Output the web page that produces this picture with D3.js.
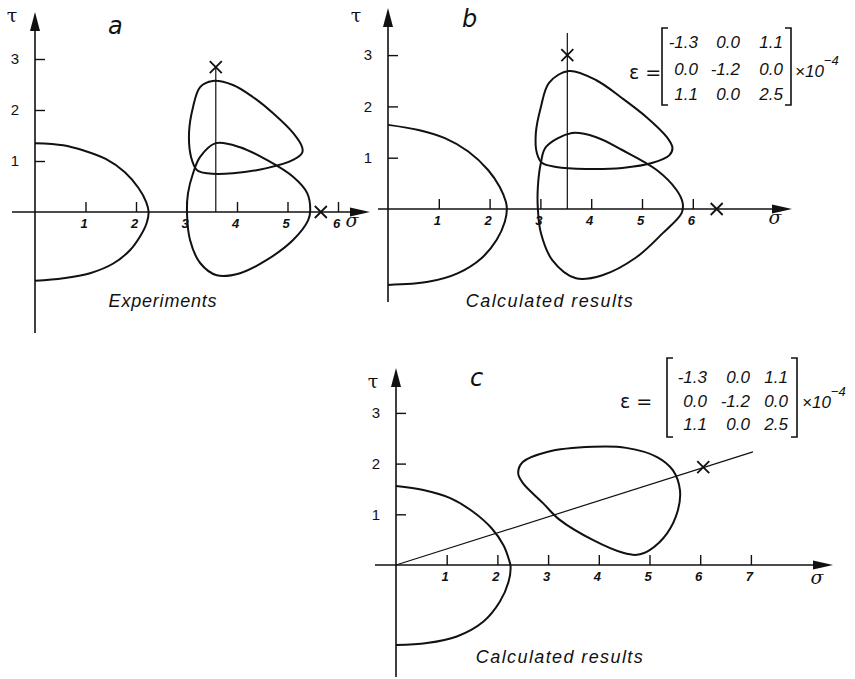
<!DOCTYPE html>
<html>
<head>
<meta charset="utf-8">
<script src="https://cdn.jsdelivr.net/npm/d3@7"></script>
<style>
  body { margin: 0; background: #fff; }
  text { fill: #111; }
</style>
</head>
<body>
<svg id="chart" width="855" height="679"></svg>
<script>
// ---- tick values ----
const sigmaTicksAB = [1, 2, 3, 4, 5, 6];
const sigmaTicksC = [1, 2, 3, 4, 5, 6, 7];
const tauTicks = [1, 2, 3];

// ---- panel a: experiments (σ, τ) ----
const aInitial = [[0,1.35],[0.56,1.31],[0.95,1.21],[1.40,1.04],[1.78,0.78],[2.05,0.47],[2.20,0.20],[2.25,0],[2.21,-0.22],[2.08,-0.48],[1.88,-0.75],[1.55,-1.01],[1.09,-1.20],[0.56,-1.30],[0,-1.35]];
const aLower = [[3.58,1.35],[3.27,1.08],[3.13,0.76],[3.03,0.37],[3.01,-0.02],[3.07,-0.55],[3.27,-1.00],[3.60,-1.24],[4.06,-1.20],[4.59,-0.94],[5.11,-0.55],[5.41,-0.16],[5.45,0.04],[5.39,0.37],[5.11,0.69],[4.59,1.02],[4.06,1.27]];
const aUpper = [[3.52,2.57],[3.27,2.45],[3.13,2.06],[3.05,1.55],[3.09,1.08],[3.21,0.82],[3.41,0.76],[3.92,0.76],[4.59,0.86],[5.11,1.02],[5.29,1.16],[5.29,1.27],[5.11,1.55],[4.71,1.94],[4.32,2.25],[3.92,2.49]];
const aLoadPath = [[3.58,0],[3.58,2.84]];
const aMarks = [[3.58,2.84],[5.66,0]];

// ---- panel b: calculated ----
const bInitial = [[0,1.64],[0.60,1.54],[1.12,1.38],[1.58,1.12],[1.97,0.76],[2.20,0.43],[2.32,0.14],[2.34,0],[2.30,-0.25],[2.14,-0.60],[1.84,-0.96],[1.38,-1.25],[0.79,-1.42],[0,-1.48]];
const bLower = [[3.62,1.48],[3.11,1.21],[3.01,0.90],[2.95,0.43],[2.95,0],[3.01,-0.47],[3.23,-0.99],[3.70,-1.35],[4.22,-1.29],[4.89,-0.94],[5.41,-0.47],[5.78,-0.08],[5.80,0.12],[5.68,0.37],[5.29,0.76],[4.61,1.15],[4.10,1.40]];
const bUpper = [[3.56,2.69],[3.17,2.46],[3.01,1.99],[2.91,1.48],[2.93,1.09],[3.03,0.90],[3.31,0.82],[3.90,0.78],[4.61,0.80],[5.21,0.90],[5.54,1.05],[5.60,1.19],[5.49,1.40],[5.09,1.79],[4.61,2.16],[4.10,2.51]];
const bLoadPath = [[3.53,0],[3.53,3.43]];
const bMarks = [[3.53,3.0],[6.47,0]];

// ---- panel c: calculated, proportional loading ----
const cInitial = [[0,1.56],[0.54,1.48],[1.07,1.32],[1.52,1.05],[1.89,0.72],[2.12,0.39],[2.23,0.10],[2.26,-0.03],[2.22,-0.33],[2.05,-0.72],[1.72,-1.12],[1.20,-1.41],[0.61,-1.54],[0,-1.58]];
const cLoop = [[3.89,2.33],[2.98,2.23],[2.50,2.03],[2.41,1.81],[2.50,1.62],[2.90,1.22],[3.23,0.89],[3.89,0.49],[4.48,0.24],[4.75,0.20],[5.01,0.30],[5.35,0.63],[5.56,1.08],[5.60,1.48],[5.46,1.87],[5.15,2.13],[4.54,2.31]];
const cLoadPath = [[0,0],[7.04,2.23]];
const cMarks = [[6.06,1.93]];

// ---- strain tensor (×10^-4) ----
const strainRows = [["-1.3","0.0","1.1"],["0.0","-1.2","0.0"],["1.1","0.0","2.5"]];

const svg = d3.select("#chart");
const INK = "#111";

const panels = [
  { tag: "a", caption: "Experiments", ticks: sigmaTicksAB, maxS: 6,
    ox: 35, oy: 212, ux: 50.5, uy: 51, yTop: 12, yBot: 333, xLeft: 12, xRight: 370,
    open: [aInitial], loops: [aUpper, aLower], path: aLoadPath, marks: aMarks,
    tagPos: [108, 34], tauPos: [12, 22], sigPos: [352, 227], capPos: [163, 307], capSpacing: 0.8, matrix: null },
  { tag: "b", caption: "Calculated results", ticks: sigmaTicksAB, maxS: 6,
    ox: 388, oy: 209, ux: 50.8, uy: 51.3, yTop: 8, yBot: 302, xLeft: 378, xRight: 792,
    open: [bInitial], loops: [bUpper, bLower], path: bLoadPath, marks: bMarks,
    tagPos: [462, 27], tauPos: [356, 22], sigPos: [775, 224], capPos: [550, 307], capSpacing: 1.4,
    matrix: { left: 662, right: 791, top: 28, bottom: 105, rows: [48, 75, 100], cols: [698, 740, 783], eqX: 629, eqY: 79, expX: 795, expY: 77 } },
  { tag: "c", caption: "Calculated results", ticks: sigmaTicksC, maxS: 7,
    ox: 396, oy: 565, ux: 50.7, uy: 50.7, yTop: 368, yBot: 677, xLeft: 375, xRight: 833,
    open: [cInitial], loops: [cLoop], path: cLoadPath, marks: cMarks,
    tagPos: [470, 386], tauPos: [373, 388], sigPos: [817, 584], capPos: [560, 663], capSpacing: 1.4,
    matrix: { left: 667, right: 797, top: 358, bottom: 437, rows: [383, 407, 430], cols: [707, 750, 788], eqX: 620, eqY: 408, expX: 802, expY: 408 } }
];

panels.forEach(p => {
  const g = svg.append("g");
  const x = d3.scaleLinear().domain([0, p.maxS]).range([p.ox, p.ox + p.maxS * p.ux]);
  const y = d3.scaleLinear().domain([0, 3]).range([p.oy, p.oy - 3 * p.uy]);

  // axes lines with arrowheads
  g.append("line").attr("x1", p.ox).attr("x2", p.ox).attr("y1", p.yBot).attr("y2", p.yTop + 12)
    .attr("stroke", INK).attr("stroke-width", 1.6);
  g.append("path").attr("d", `M${p.ox},${p.yTop} L${p.ox - 5},${p.yTop + 19} L${p.ox + 5},${p.yTop + 19} Z`).attr("fill", INK);
  g.append("line").attr("x1", p.xLeft).attr("x2", p.xRight - 12).attr("y1", p.oy).attr("y2", p.oy)
    .attr("stroke", INK).attr("stroke-width", 1.6);
  g.append("path").attr("d", `M${p.xRight},${p.oy} L${p.xRight - 20},${p.oy - 4.5} L${p.xRight - 20},${p.oy + 4.5} Z`).attr("fill", INK);

  // σ axis ticks (pointing up), labels below
  const xAxis = d3.axisBottom(x).tickValues(p.ticks).tickSizeInner(-10).tickSizeOuter(0).tickPadding(7).tickFormat(d3.format("d"));
  const gx = g.append("g").attr("transform", `translate(0,${p.oy})`).call(xAxis);
  gx.select(".domain").remove();
  gx.selectAll(".tick line").attr("stroke", INK).attr("stroke-width", 1.4);
  gx.selectAll(".tick text").attr("font-family", "Liberation Sans, Arial, sans-serif")
    .attr("font-size", 13).attr("font-style", "italic").attr("font-weight", "bold").attr("dx", -2);

  // τ axis ticks (pointing right), labels left
  const yAxis = d3.axisLeft(y).tickValues(tauTicks).tickSizeInner(-10).tickSizeOuter(0).tickPadding(16).tickFormat(d3.format("d"));
  const gy = g.append("g").attr("transform", `translate(${p.ox},0)`).call(yAxis);
  gy.select(".domain").remove();
  gy.selectAll(".tick line").attr("stroke", INK).attr("stroke-width", 1.4);
  gy.selectAll(".tick text").attr("font-family", "Liberation Sans, Arial, sans-serif").attr("font-size", 15);

  // loading path
  g.append("line").attr("x1", x(p.path[0][0])).attr("y1", y(p.path[0][1]))
    .attr("x2", x(p.path[1][0])).attr("y2", y(p.path[1][1]))
    .attr("stroke", INK).attr("stroke-width", 1.2);

  // yield surfaces
  const openLine = d3.line().x(d => x(d[0])).y(d => y(d[1])).curve(d3.curveCatmullRom.alpha(0.5));
  const closedLine = d3.line().x(d => x(d[0])).y(d => y(d[1])).curve(d3.curveCatmullRomClosed.alpha(0.5));
  p.open.forEach(c => g.append("path").attr("d", openLine(c)).attr("fill", "none").attr("stroke", INK).attr("stroke-width", 2));
  p.loops.forEach(c => g.append("path").attr("d", closedLine(c)).attr("fill", "none").attr("stroke", INK).attr("stroke-width", 2));

  // markers
  p.marks.forEach(m => {
    const cx = x(m[0]), cy = y(m[1]), r = 6;
    g.append("path").attr("d", `M${cx - r},${cy - r} L${cx + r},${cy + r} M${cx - r},${cy + r} L${cx + r},${cy - r}`)
      .attr("stroke", INK).attr("stroke-width", 1.8).attr("fill", "none");
  });

  // labels
  g.append("text").attr("x", p.tagPos[0]).attr("y", p.tagPos[1]).text(p.tag)
    .attr("font-family", "DejaVu Sans, sans-serif").attr("font-size", 24).attr("font-style", "italic").attr("font-weight", 300);
  g.append("text").attr("x", p.tauPos[0]).attr("y", p.tauPos[1]).text("τ")
    .attr("font-family", "DejaVu Serif, serif").attr("font-size", 19).attr("text-anchor", "middle");
  g.append("text").attr("x", p.sigPos[0]).attr("y", p.sigPos[1]).text("σ")
    .attr("font-family", "DejaVu Serif, serif").attr("font-size", 19).attr("font-style", "italic").attr("text-anchor", "middle");
  g.append("text").attr("x", p.capPos[0]).attr("y", p.capPos[1]).text(p.caption)
    .attr("font-family", "Liberation Sans, Arial, sans-serif").attr("font-size", 18).attr("font-style", "italic")
    .attr("letter-spacing", p.capSpacing).attr("text-anchor", "middle");

  // strain tensor
  if (p.matrix) {
    const m = p.matrix;
    const mg = g.append("g");
    mg.append("path").attr("d", `M${m.left + 6},${m.top} L${m.left},${m.top} L${m.left},${m.bottom} L${m.left + 6},${m.bottom}`)
      .attr("fill", "none").attr("stroke", INK).attr("stroke-width", 1.6);
    mg.append("path").attr("d", `M${m.right - 6},${m.top} L${m.right},${m.top} L${m.right},${m.bottom} L${m.right - 6},${m.bottom}`)
      .attr("fill", "none").attr("stroke", INK).attr("stroke-width", 1.6);
    strainRows.forEach((row, i) => {
      row.forEach((v, j) => {
        mg.append("text").attr("x", m.cols[j]).attr("y", m.rows[i]).text(v)
          .attr("text-anchor", "end").attr("font-family", "Liberation Sans, Arial, sans-serif")
          .attr("font-size", 17).attr("font-style", "italic");
      });
    });
    mg.append("text").attr("x", m.eqX).attr("y", m.eqY).text("ε =")
      .attr("font-family", "DejaVu Sans, sans-serif").attr("font-size", 19);
    const ex = mg.append("text").attr("x", m.expX).attr("y", m.expY)
      .attr("font-family", "Liberation Sans, Arial, sans-serif").attr("font-size", 17).attr("font-style", "italic");
    ex.append("tspan").text("×10");
    ex.append("tspan").attr("dy", -12).attr("font-size", 13).text("−4");
  }
});
</script>
</body>
</html>
